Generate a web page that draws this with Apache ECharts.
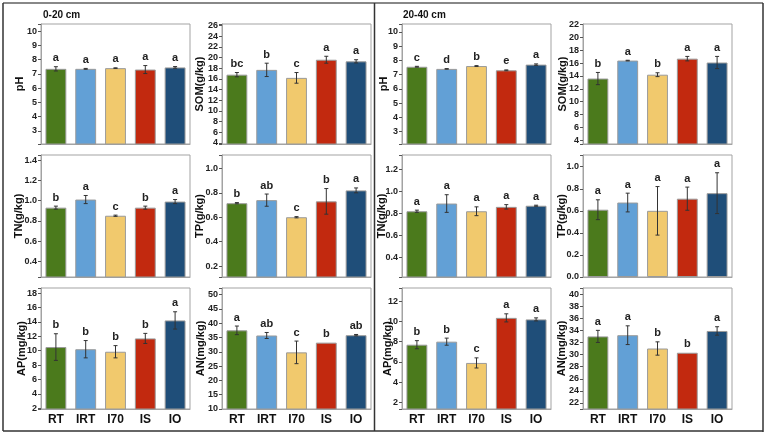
<!DOCTYPE html>
<html>
<head>
<meta charset="utf-8">
<script src="https://cdn.jsdelivr.net/npm/echarts@6/dist/echarts.min.js"></script>
<style>
html, body { margin: 0; padding: 0; background: #fff; }
#chart { width: 767px; height: 438px; }
</style>
</head>
<body>
<div id="chart"></div>
<script>
// treatments and bar colours
const categories = ['RT', 'IRT', 'I70', 'IS', 'IO'];
const barColors = ['#4b7a1c', '#62a0d6', '#f1c96d', '#c2290f', '#1f4e79'];

// 0-20 cm
const ph020 = [7.35, 7.35, 7.4, 7.3, 7.45];
const ph020Err = [0.15, 0.03, 0.02, 0.28, 0.06];
const ph020Sig = ['a', 'a', 'a', 'a', 'a'];
const som020 = [16.8, 17.7, 16.2, 19.6, 19.3];
const som020Err = [0.4, 1.25, 1.0, 0.65, 0.3];
const som020Sig = ['bc', 'b', 'c', 'a', 'a'];
const tn020 = [0.93, 1.01, 0.85, 0.93, 0.99];
const tn020Err = [0.015, 0.04, 0.006, 0.015, 0.02];
const tn020Sig = ['b', 'a', 'c', 'b', 'a'];
const tp020 = [0.715, 0.74, 0.6, 0.73, 0.82];
const tp020Err = [0.005, 0.05, 0.005, 0.105, 0.02];
const tp020Sig = ['b', 'ab', 'c', 'b', 'a'];
const ap020 = [10.5, 10.2, 9.85, 11.7, 14.2];
const ap020Err = [1.85, 1.2, 0.85, 0.7, 1.2];
const ap020Sig = ['b', 'b', 'b', 'b', 'a'];
const an020 = [37.5, 35.7, 29.8, 33.2, 35.8];
const an020Err = [1.5, 1.05, 3.95, 0, 0.25];
const an020Sig = ['a', 'ab', 'c', 'b', 'ab'];

// 20-40 cm
const ph2040 = [7.55, 7.4, 7.6, 7.3, 7.7];
const ph2040Err = [0.03, 0.02, 0.03, 0.03, 0.05];
const ph2040Sig = ['c', 'd', 'b', 'e', 'a'];
const som2040 = [13.6, 16.4, 14.2, 16.7, 16.1];
const som2040Err = [0.95, 0.05, 0.3, 0.35, 0.95];
const som2040Sig = ['b', 'a', 'b', 'a', 'a'];
const tn2040 = [0.82, 0.89, 0.82, 0.86, 0.87];
const tn2040Err = [0.01, 0.08, 0.04, 0.02, 0.005];
const tn2040Sig = ['a', 'a', 'a', 'a', 'a'];
const tp2040 = [0.61, 0.675, 0.6, 0.71, 0.76];
const tp2040Err = [0.09, 0.085, 0.22, 0.105, 0.185];
const tp2040Sig = ['a', 'a', 'a', 'a', 'a'];
const ap2040 = [7.7, 8.0, 5.9, 10.35, 10.2];
const ap2040Err = [0.4, 0.35, 0.5, 0.4, 0.15];
const ap2040Sig = ['b', 'b', 'c', 'a', 'a'];
const an2040 = [33.0, 33.2, 31.0, 30.3, 33.9];
const an2040Err = [1.0, 1.55, 1.1, 0, 0.7];
const an2040Sig = ['a', 'a', 'b', 'b', 'a'];

// tick labels
const phTicks = ['3', '4', '5', '6', '7', '8', '9', '10'];
const som020Ticks = ['4', '6', '8', '10', '12', '14', '16', '18', '20', '22', '24', '26'];
const som2040Ticks = ['4', '6', '8', '10', '12', '14', '16', '18', '20', '22'];
const tn020Ticks = ['0.4', '0.6', '0.8', '1.0', '1.2', '1.4'];
const tn2040Ticks = ['0.4', '0.6', '0.8', '1.0', '1.2'];
const tp020Ticks = ['0.2', '0.4', '0.6', '0.8', '1.0'];
const tp2040Ticks = ['0.0', '0.2', '0.4', '0.6', '0.8', '1.0'];
const ap020Ticks = ['2', '4', '6', '8', '10', '12', '14', '16', '18'];
const ap2040Ticks = ['2', '4', '6', '8', '10', '12'];
const an020Ticks = ['10', '15', '20', '25', '30', '35', '40', '45', '50'];
const an2040Ticks = ['22', '24', '26', '28', '30', '32', '34', '36', '38', '40'];

const colLeft = [41, 222, 402, 583];
const rowTop = [24, 155, 288];
const rowHeight = [120, 122, 121];

const panels = [
  { col: 0, row: 0, name: 'pH', v: ph020, e: ph020Err, s: ph020Sig, ticks: phTicks, min: 2.07, max: 10.5, gap: 15.5 },
  { col: 1, row: 0, name: 'SOM(g/kg)', v: som020, e: som020Err, s: som020Sig, ticks: som020Ticks, min: 3.8, max: 26.3, gap: 16.5 },
  { col: 2, row: 0, name: 'pH', v: ph2040, e: ph2040Err, s: ph2040Sig, ticks: phTicks, min: 2.13, max: 10.55, gap: 13 },
  { col: 3, row: 0, name: 'SOM(g/kg)', v: som2040, e: som2040Err, s: som2040Sig, ticks: som2040Ticks, min: 3.4, max: 22.1, gap: 15 },
  { col: 0, row: 1, name: 'TN(g/kg)', v: tn020, e: tn020Err, s: tn020Sig, ticks: tn020Ticks, min: 0.245, max: 1.45, gap: 17 },
  { col: 1, row: 1, name: 'TP(g/kg)', v: tp020, e: tp020Err, s: tp020Sig, ticks: tp020Ticks, min: 0.11, max: 1.11, gap: 16.5 },
  { col: 2, row: 1, name: 'TN(g/kg)', v: tn2040, e: tn2040Err, s: tn2040Sig, ticks: tn2040Ticks, min: 0.224, max: 1.33, gap: 15 },
  { col: 3, row: 1, name: 'TP(g/kg)', v: tp2040, e: tp2040Err, s: tp2040Sig, ticks: tp2040Ticks, min: 0, max: 1.106, gap: 16 },
  { col: 0, row: 2, name: 'AP(mg/kg)', v: ap020, e: ap020Err, s: ap020Sig, ticks: ap020Ticks, min: 1.9, max: 18.7, gap: 14 },
  { col: 1, row: 2, name: 'AN(mg/kg)', v: an020, e: an020Err, s: an020Sig, ticks: an020Ticks, min: 10, max: 52.3, gap: 16 },
  { col: 2, row: 2, name: 'AP(mg/kg)', v: ap2040, e: ap2040Err, s: ap2040Sig, ticks: ap2040Ticks, min: 1.35, max: 13.3, gap: 9 },
  { col: 3, row: 2, name: 'AN(mg/kg)', v: an2040, e: an2040Err, s: an2040Sig, ticks: an2040Ticks, min: 21, max: 41, gap: 16 }
];

const grids = [], xAxes = [], yAxes = [], series = [];

panels.forEach((p, i) => {
  const step = Math.round((+p.ticks[1] - +p.ticks[0]) * 1000) / 1000;
  grids.push({
    left: colLeft[p.col], top: rowTop[p.row], width: 149, height: rowHeight[p.row],
    show: true, borderColor: '#a3a3a3', borderWidth: 1
  });
  xAxes.push({
    type: 'category', gridIndex: i, data: categories,
    axisLine: { lineStyle: { color: '#a3a3a3' } },
    axisTick: { alignWithLabel: true, length: 3, lineStyle: { color: '#777' } },
    axisLabel: {
      show: p.row === 2, margin: 5, fontSize: 12, fontWeight: 'bold',
      color: '#111', fontFamily: 'Liberation Sans'
    }
  });
  yAxes.push({
    type: 'value', gridIndex: i, min: p.min, max: p.max,
    minInterval: step, maxInterval: step,
    splitNumber: Math.round((p.max - p.min) / step),
    name: p.name, nameLocation: 'middle', nameRotate: 90, nameGap: p.gap,
    nameMoveOverlap: false,
    nameTextStyle: { fontSize: 11, fontWeight: 'bold', color: '#111', fontFamily: 'Liberation Sans' },
    axisLine: { show: true, lineStyle: { color: '#a3a3a3' } },
    axisTick: { show: true, length: 3, lineStyle: { color: '#555' } },
    splitLine: { show: false },
    axisLabel: {
      margin: 4, fontSize: 9, fontWeight: 'bold', color: '#222', fontFamily: 'Liberation Sans',
      showMinLabel: true, showMaxLabel: true,
      formatter: val => {
        const t = p.ticks.find(s => Math.abs(+s - val) < 1e-6);
        return t === undefined ? '' : t;
      }
    }
  });
  series.push({
    type: 'bar', xAxisIndex: i, yAxisIndex: i, barWidth: '70%',
    data: p.v.map((v, k) => ({ value: v, itemStyle: { color: barColors[k] } })),
    itemStyle: { borderColor: '#9a9a9a', borderWidth: 1 },
    silent: true
  });
  series.push({
    type: 'custom', xAxisIndex: i, yAxisIndex: i, z: 10, silent: true,
    encode: { x: 0, y: [1, 2] },
    data: p.v.map((v, k) => [k, v - p.e[k], v + p.e[k]]),
    renderItem: (params, api) => {
      const k = api.value(0);
      const lo = api.coord([k, api.value(1)]);
      const hi = api.coord([k, api.value(2)]);
      const children = [];
      if (p.e[params.dataIndex] > 0) {
        const st = { stroke: '#333', lineWidth: 1 };
        children.push({ type: 'line', shape: { x1: hi[0], y1: hi[1], x2: lo[0], y2: lo[1] }, style: st });
        children.push({ type: 'line', shape: { x1: hi[0] - 2, y1: hi[1], x2: hi[0] + 2, y2: hi[1] }, style: st });
        children.push({ type: 'line', shape: { x1: lo[0] - 2, y1: lo[1], x2: lo[0] + 2, y2: lo[1] }, style: st });
      }
      children.push({
        type: 'text', x: hi[0], y: hi[1] - 3,
        style: {
          text: p.s[params.dataIndex], align: 'center', verticalAlign: 'bottom',
          font: 'bold 11px "Liberation Sans"', fill: '#222'
        }
      });
      return { type: 'group', children: children };
    }
  });
});

const frame = { stroke: '#333', lineWidth: 1.5 };
const chart = echarts.init(document.getElementById('chart'));
chart.setOption({
  animation: false,
  backgroundColor: '#fff',
  grid: grids,
  xAxis: xAxes,
  yAxis: yAxes,
  series: series,
  graphic: [
    { type: 'line', shape: { x1: 3, y1: 3, x2: 763, y2: 3 }, style: { stroke: '#888', lineWidth: 2 } },
    { type: 'line', shape: { x1: 3, y1: 3, x2: 3, y2: 431 }, style: frame },
    { type: 'line', shape: { x1: 374.5, y1: 3, x2: 374.5, y2: 431 }, style: frame },
    { type: 'line', shape: { x1: 763, y1: 3, x2: 763, y2: 432 }, style: frame },
    { type: 'line', shape: { x1: 3, y1: 431, x2: 763, y2: 431 }, style: frame },
    { type: 'text', left: 43, top: 10, style: { text: '0-20 cm', font: 'bold 10px "Liberation Sans"', fill: '#111' } },
    { type: 'text', left: 403, top: 10, style: { text: '20-40 cm', font: 'bold 10px "Liberation Sans"', fill: '#111' } }
  ]
});
</script>
</body>
</html>
